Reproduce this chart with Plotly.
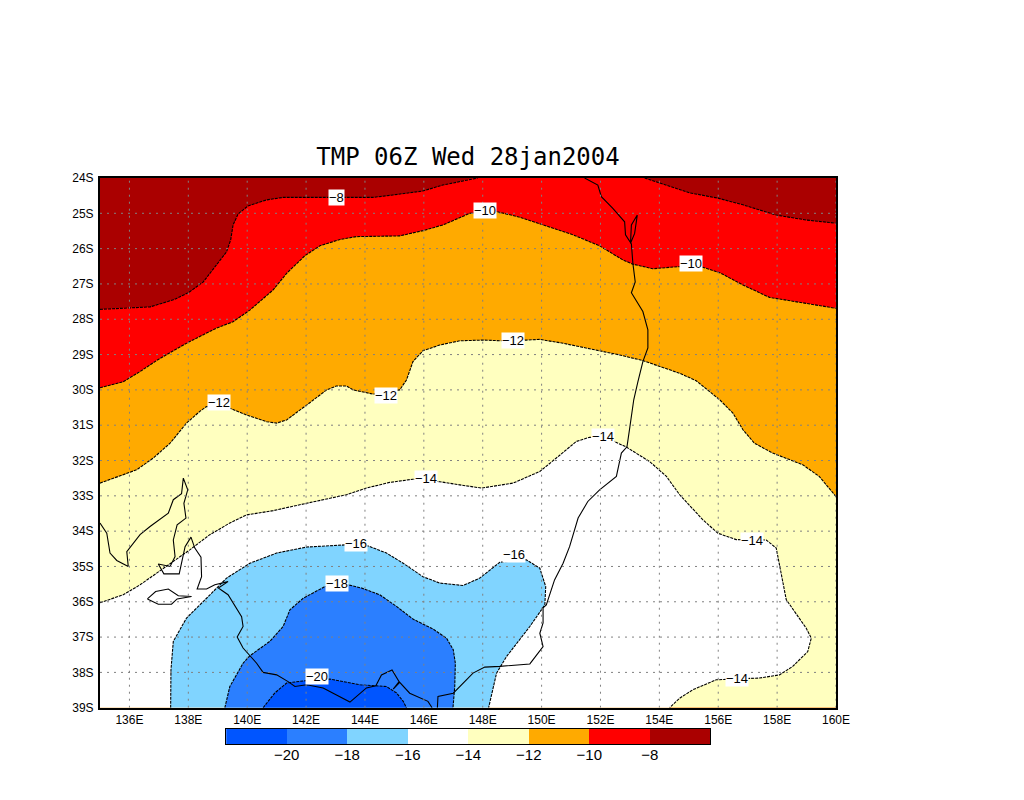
import plotly.graph_objects as go

# isotherms, lon in deg E and lat in deg (south negative)
m8_west_lon = [135, 135.96, 136.70, 137.49, 138.00, 138.51, 138.96, 139.30, 139.44, 139.52, 139.69, 140.03, 140.66, 141.22, 142.02, 143.15, 144.27, 144.95, 145.96, 146.64, 147.56, 147.83]
m8_west_lat = [-27.72, -27.67, -27.65, -27.45, -27.25, -26.94, -26.46, -26.09, -25.75, -25.33, -25.02, -24.79, -24.62, -24.55, -24.55, -24.55, -24.55, -24.48, -24.37, -24.20, -24.03, -24]
m8_east_lon = [153.50, 154.24, 155.03, 155.99, 156.84, 157.97, 158.99, 160]
m8_east_lat = [-24, -24.20, -24.42, -24.57, -24.76, -25.05, -25.19, -25.28]

m10_lon = [135, 135.79, 136.36, 136.92, 137.49, 138.05, 138.96, 139.52, 140.09, 140.88, 141.34, 141.96, 142.47, 143.15, 143.71, 145.18, 145.97, 146.65, 147.56, 148.47, 149.26, 150.05, 151.07, 151.97, 152.76, 153.10, 153.78, 154.63, 155.48, 156.05, 156.84, 157.74, 158.76, 160]
m10_lat = [-29.94, -29.77, -29.48, -29.17, -28.89, -28.63, -28.25, -28.07, -27.74, -27.17, -26.70, -26.20, -25.92, -25.74, -25.66, -25.64, -25.49, -25.33, -25.00, -24.95, -25.11, -25.33, -25.61, -25.92, -26.32, -26.44, -26.57, -26.51, -26.53, -26.68, -27.03, -27.38, -27.52, -27.69]

m12_lon = [135, 135.79, 136.25, 136.81, 137.38, 137.94, 138.39, 138.62, 139.41, 139.98, 140.66, 141.00, 141.34, 142.02, 142.70, 143.03, 143.37, 143.60, 144.28, 145.18, 145.41, 145.63, 145.97, 146.54, 147.22, 148.01, 148.68, 149.48, 149.94, 150.73, 151.86, 152.65, 153.44, 154.01, 154.69, 155.25, 155.65, 156.05, 156.50, 156.84, 157.23, 157.85, 158.87, 159.43, 160]
m12_lat = [-32.64, -32.41, -32.26, -31.93, -31.51, -30.94, -30.61, -30.47, -30.52, -30.71, -30.90, -30.94, -30.85, -30.43, -30.00, -29.89, -29.89, -30.00, -30.12, -30.00, -29.72, -29.20, -28.89, -28.73, -28.61, -28.59, -28.61, -28.59, -28.57, -28.68, -28.87, -29.01, -29.17, -29.34, -29.53, -29.74, -30.00, -30.28, -30.66, -31.13, -31.51, -31.79, -32.12, -32.45, -33.02]

m14_lon = [135, 135.79, 136.36, 136.92, 137.49, 138.05, 138.73, 139.41, 139.98, 140.88, 142.02, 143.37, 144.05, 144.84, 145.63, 146.54, 147.22, 147.96, 149.03, 149.94, 150.50, 151.18, 151.63, 152.42, 152.88, 153.67, 154.24, 154.69, 155.48, 155.99, 156.61, 157.63, 157.97, 158.14, 158.31, 158.99, 159.16, 159.04, 158.53, 158.08, 157.40, 156.50, 155.93, 155.14, 154.69, 154.35]
m14_lat = [-36.03, -35.80, -35.52, -35.19, -34.86, -34.53, -34.10, -33.77, -33.54, -33.42, -33.21, -32.97, -32.78, -32.62, -32.53, -32.60, -32.69, -32.78, -32.64, -32.31, -31.93, -31.46, -31.34, -31.44, -31.62, -32.03, -32.45, -32.97, -33.68, -34.06, -34.24, -34.25, -34.48, -35.19, -35.94, -36.75, -37.03, -37.41, -37.83, -38.07, -38.16, -38.19, -38.21, -38.49, -38.73, -39]

m16_lon = [137.40, 137.41, 137.49, 137.94, 138.62, 139.30, 140.09, 141.00, 142.02, 143.32, 144.11, 144.73, 145.30, 145.97, 146.54, 147.33, 147.90, 148.58, 149.48, 149.94, 150.14, 150.11, 149.60, 148.81, 148.47, 148.20]
m16_lat = [-39, -37.93, -37.12, -36.46, -35.90, -35.33, -34.91, -34.62, -34.45, -34.39, -34.42, -34.62, -34.91, -35.29, -35.47, -35.54, -35.33, -34.88, -34.81, -35.05, -35.57, -36.09, -36.70, -37.55, -38.02, -39]

m18_lon = [139.24, 139.41, 139.86, 140.09, 140.77, 141.22, 141.45, 141.90, 142.64, 143.43, 143.88, 144.50, 145.07, 145.63, 146.31, 146.77, 147.00, 147.07, 147.05, 146.99]
m18_lat = [-39, -38.40, -37.74, -37.53, -37.12, -36.70, -36.23, -35.90, -35.57, -35.52, -35.61, -35.80, -36.13, -36.49, -36.77, -37.03, -37.36, -37.74, -38.40, -39]

m20_lon = [140.54, 140.94, 141.34, 142.02, 142.81, 143.83, 144.73, 145.07, 145.30, 145.41]
m20_lat = [-39, -38.58, -38.30, -38.23, -38.19, -38.35, -38.40, -38.58, -38.82, -39]

# coastlines
east_coast_lon = [151.46, 151.91, 152.03, 152.42, 152.82, 152.85, 153.05, 153.10, 153.18, 153.05, 153.44, 153.61, 153.61, 153.44, 153.27, 153.13, 153.00, 152.90, 152.71, 152.54, 151.97, 151.57, 151.24, 151.12, 150.95, 150.73, 150.44, 150.16, 150.05, 150.05, 149.94, 150.05, 149.60, 148.58, 148.07, 147.67, 147.00, 146.48, 146.46]
east_coast_lat = [-24, -24.20, -24.53, -24.86, -25.24, -25.61, -25.87, -26.41, -26.94, -27.25, -27.78, -28.30, -28.81, -29.20, -29.77, -30.28, -31.04, -31.61, -31.79, -32.45, -32.83, -33.16, -33.63, -33.96, -34.44, -34.91, -35.38, -36.09, -36.17, -36.60, -36.89, -37.27, -37.76, -37.83, -37.85, -38.02, -38.59, -38.68, -39]
south_coast_lon = [135, 135.23, 135.34, 135.57, 135.96, 135.91, 136.36, 136.70, 137.32, 137.49, 137.77, 137.83, 137.98, 137.85, 137.92, 137.62, 137.49, 137.55, 137.38, 136.98, 137.17, 137.69, 137.89, 138.09, 138.22, 138.43, 138.45, 138.30, 138.62, 138.90, 139.35, 139.02, 139.35, 139.64, 139.81, 139.86, 139.66, 139.86, 140.09, 140.32, 140.54, 141.00, 141.39, 141.62, 142.02, 142.58, 143.49, 144.05, 144.37, 144.56, 144.92, 145.16, 144.96, 145.18, 145.52, 146.14, 146.28]
south_coast_lat = [-33.77, -34.06, -34.62, -34.83, -35.00, -34.58, -34.10, -33.87, -33.49, -33.11, -32.94, -32.50, -32.83, -33.21, -33.63, -33.82, -34.25, -34.72, -35.00, -34.93, -35.21, -35.21, -34.44, -34.17, -34.48, -34.74, -35.29, -35.64, -35.64, -35.52, -35.43, -35.61, -35.80, -36.18, -36.42, -36.70, -37.00, -37.31, -37.53, -37.74, -38.00, -38.07, -38.26, -38.40, -38.35, -38.44, -38.84, -38.44, -38.38, -38.07, -37.93, -38.26, -38.47, -38.28, -38.59, -38.82, -39]
fraser_lon = [153.02, 153.05, 153.25, 153.16, 153.02]
fraser_lat = [-25.85, -25.33, -25.05, -25.57, -25.85]
kangaroo_lon = [136.61, 136.89, 137.32, 137.66, 138.11, 137.62, 137.43, 136.98, 136.61]
kangaroo_lat = [-35.92, -35.71, -35.64, -35.83, -35.85, -35.92, -36.07, -36.07, -35.92]

# contour labels
label_text = ["-8", "-10", "-10", "-12", "-12", "-12", "-14", "-14", "-14", "-14", "-16", "-16", "-18", "-20"]
label_lon = [143.04, 148.07, 155.06, 149.02, 139.04, 144.71, 152.07, 146.07, 157.13, 156.65, 143.69, 149.05, 143.04, 142.37]
label_lat = [-24.54, -24.93, -26.43, -28.61, -30.37, -30.17, -31.33, -32.52, -34.27, -38.18, -34.36, -34.67, -35.49, -38.12]

# colour key
key_levels = [-20, -18, -16, -14, -12, -10, -8]
key_centers = [-21, -19, -17, -15, -13, -11, -9, -7]
key_colors = ["#0055ff", "#2b7fff", "#80d4ff", "#ffffff", "#ffffbf", "#ffaa00", "#ff0000", "#aa0000"]

lon_ticks = list(range(136, 161, 2))
lat_ticks = list(range(-24, -40, -1))

LINE_DASH = "3px,1px"
FONT = "Liberation Sans"
# the page puts an 8px body margin around the figure, so sizes are taken off that
PAGE_PAD = 8
FIG_W, FIG_H = 1024 - 2 * PAGE_PAD, 800 - 2 * PAGE_PAD
# page position of the boxes
BOX_L, BOX_R, BOX_T, BOX_B = 100, 836.5, 178, 708
KEY_L, KEY_R, KEY_T, KEY_B = 226.3, 710.7, 729.3, 744.3

fig = go.Figure()


def add_band(lons, lats, color):
	fig.add_trace(go.Scatter(x=lons, y=lats, mode="none", fill="toself", fillcolor=color, hoverinfo="skip", showlegend=False))


def add_line(lons, lats, dash=None):
	fig.add_trace(go.Scatter(x=lons, y=lats, mode="lines", line=dict(color="black", width=1.1, dash=dash), hoverinfo="skip", showlegend=False))


# warmest first, each colder band painted over the one before
add_band([135, 160, 160, 135], [-24, -24, -39, -39], key_colors[7])
add_band(m8_west_lon + m8_east_lon + [160, 135], m8_west_lat + m8_east_lat + [-39, -39], key_colors[6])
add_band(m10_lon + [160, 135], m10_lat + [-39, -39], key_colors[5])
add_band(m12_lon + [160, 135], m12_lat + [-39, -39], key_colors[4])
add_band(m14_lon + [135], m14_lat + [-39], key_colors[3])
add_band(m16_lon, m16_lat, key_colors[2])
add_band(m18_lon, m18_lat, key_colors[1])
add_band(m20_lon, m20_lat, key_colors[0])

for lons, lats in [(m8_west_lon, m8_west_lat), (m8_east_lon, m8_east_lat), (m10_lon, m10_lat), (m12_lon, m12_lat),
		(m14_lon, m14_lat), (m16_lon, m16_lat), (m18_lon, m18_lat), (m20_lon, m20_lat)]:
	add_line(lons, lats, LINE_DASH)

for lons, lats in [(east_coast_lon, east_coast_lat), (south_coast_lon, south_coast_lat), (fraser_lon, fraser_lat), (kangaroo_lon, kangaroo_lat)]:
	add_line(lons, lats)

fig.add_trace(go.Bar(x=key_centers, y=[1] * len(key_centers), width=2, marker=dict(color=key_colors, line=dict(width=0)),
	xaxis="x2", yaxis="y2", hoverinfo="skip", showlegend=False))

# the grid sits over the colour fill
for lon in lon_ticks:
	fig.add_shape(type="line", x0=lon, x1=lon, y0=-39, y1=-24, xref="x", yref="y", layer="above", line=dict(color="#808080", width=1, dash="2px,5px"))
for lat in lat_ticks[1:-1]:
	fig.add_shape(type="line", x0=135, x1=160, y0=lat, y1=lat, xref="x", yref="y", layer="above", line=dict(color="#808080", width=1, dash="2px,5px"))

for text, lon, lat in zip(label_text, label_lon, label_lat):
	fig.add_annotation(x=lon, y=lat, xref="x", yref="y", text=text.replace("-", "\u2212"), showarrow=False, bgcolor="white",
		font=dict(family=FONT, size=13, color="black"), borderpad=0)

area_w = BOX_R - BOX_L
area_h = KEY_B - BOX_T
fig.update_layout(
	width=FIG_W, height=FIG_H, autosize=False,
	margin=dict(l=BOX_L - PAGE_PAD, r=FIG_W + PAGE_PAD - BOX_R, t=BOX_T - PAGE_PAD, b=FIG_H + PAGE_PAD - KEY_B, pad=0),
	paper_bgcolor="white", plot_bgcolor="white", bargap=0,
	font=dict(family=FONT, color="black"),
	title=dict(text="TMP 06Z Wed 28jan2004", x=(468 - PAGE_PAD) / FIG_W, xanchor="center", y=1 - (157 - PAGE_PAD) / FIG_H, yanchor="middle",
		font=dict(family="DejaVu Sans Mono", size=24, color="black")),
	xaxis=dict(range=[135, 160], tickvals=lon_ticks, ticktext=[f"{v}E" for v in lon_ticks], showgrid=False, zeroline=False,
		showline=True, mirror=True, linecolor="black", linewidth=2, ticks="", tickfont=dict(size=12), anchor="y"),
	yaxis=dict(range=[-39, -24], domain=[(KEY_B - BOX_B) / area_h, 1], tickvals=lat_ticks, ticktext=[f"{-v}S" for v in lat_ticks], showgrid=False, zeroline=False,
		showline=True, mirror=True, linecolor="black", linewidth=2, ticks="", tickfont=dict(size=12), ticklabelstandoff=2, anchor="x"),
	xaxis2=dict(domain=[(KEY_L - BOX_L) / area_w, (KEY_R - BOX_L) / area_w], range=[-22, -6], tickvals=key_levels,
		ticktext=[f"\u2212{-v}" for v in key_levels], showgrid=False, zeroline=False, showline=True, mirror=True, linecolor="black", linewidth=1,
		ticks="", tickfont=dict(size=15), ticklabelstandoff=-3, anchor="y2"),
	yaxis2=dict(domain=[0, (KEY_B - KEY_T) / area_h], range=[0, 1], showticklabels=False, showgrid=False, zeroline=False,
		showline=True, mirror=True, linecolor="black", linewidth=1, ticks="", anchor="x2"),
)

fig.write_html("out.html")
